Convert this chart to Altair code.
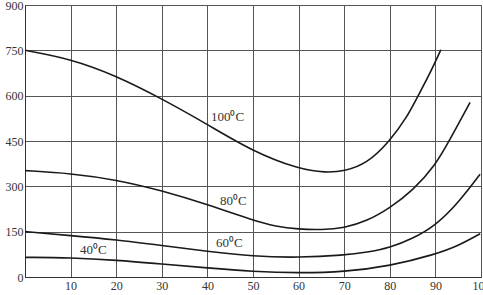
import altair as alt
import pandas as pd

x100 = [0, 10, 20, 30, 40, 50, 60, 66, 70, 75, 80, 83.7, 86.2, 88.7, 91.2]
y100 = [750, 722, 666, 590, 505, 415, 357, 345, 350, 375, 450, 527, 600, 670, 752]
x80 = [0, 10, 20, 30, 40, 50, 55, 60, 65, 70, 75, 80, 85, 90, 93, 97.6]
y80 = [352, 343, 322, 286, 240, 187, 167, 158, 156, 162, 185, 228, 285, 370, 450, 578]
x60 = [0, 10, 20, 30, 40, 50, 60, 70, 75, 80, 85, 90, 95, 99.8]
y60 = [150, 137, 123, 104, 85, 68, 64, 72, 82, 97, 127, 170, 245, 340]
x40 = [0, 10, 20, 30, 40, 50, 60, 70, 80, 90, 95, 99.8]
y40 = [65, 64, 56, 43, 30, 18, 13, 17, 36, 75, 103, 143]

series_names = ["100⁰C", "80⁰C", "60⁰C", "40⁰C"]
label_x = [44.4, 45.7, 44.8, 15]
label_y = [530, 253, 113, 90]

x_ticks = [10, 20, 30, 40, 50, 60, 70, 80, 90, 100]
y_ticks = [0, 150, 300, 450, 600, 750, 900]

rows = []
for name, xs, ys in zip(series_names, [x100, x80, x60, x40], [y100, y80, y60, y40]):
    for a, b in zip(xs, ys):
        rows.append({"series": name, "x": a, "y": b})
df = pd.DataFrame(rows)
labels = pd.DataFrame({"series": series_names, "x": label_x, "y": label_y})

FONT = "Liberation Serif"
xs = alt.Scale(domain=[0, 100], nice=False)
ys = alt.Scale(domain=[0, 900], nice=False)

lines = alt.Chart(df).mark_line(color="#1a1a1a", strokeWidth=1.6, interpolate="basis").encode(
    x=alt.X("x:Q", scale=xs, axis=alt.Axis(values=x_ticks, title=None, grid=True, gridColor="#555",
                                           gridOpacity=1, gridWidth=1, domainColor="#333", tickSize=0,
                                           labelFont=FONT, labelFontSize=12, labelColor="#333",
                                           labelPadding=3, labelFlush=False)),
    y=alt.Y("y:Q", scale=ys, axis=alt.Axis(values=y_ticks, title=None, grid=True, gridColor="#555",
                                           gridOpacity=1, gridWidth=1, domainColor="#333", tickSize=0,
                                           labelFont=FONT, labelFontSize=12, labelColor="#333",
                                           labelPadding=2, labelFlush=False)),
    detail="series:N",
)

text = alt.Chart(labels).mark_text(font=FONT, fontSize=13, color="#333").encode(
    x=alt.X("x:Q", scale=xs), y=alt.Y("y:Q", scale=ys), text="series:N"
)

chart = (lines + text).properties(
    width=456, height=272,
    autosize=alt.AutoSizeParams(type="none"),
    padding={"left": 25, "top": 5, "right": 2, "bottom": 18},
    background="white",
).configure_view(stroke="#555", strokeWidth=1)

chart.save("out.html", embed_options={"renderer": "svg", "actions": False})
